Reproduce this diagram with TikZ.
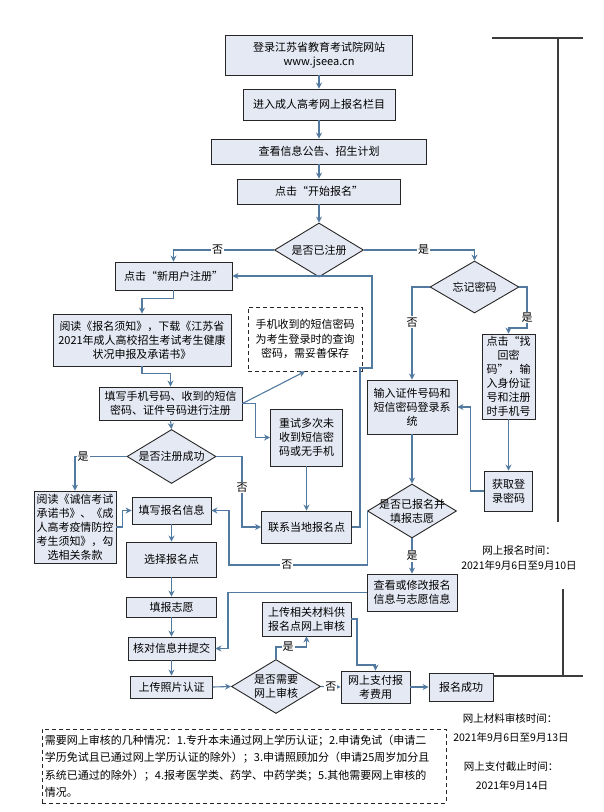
\documentclass[tikz,border=0pt]{standalone}
\usepackage{fontspec}
\setmainfont{Noto Sans CJK SC}
\usetikzlibrary{shapes.geometric}
\usetikzlibrary{arrows.meta}
\definecolor{boxfill}{RGB}{229,233,244}
\definecolor{flowblue}{RGB}{82,122,160}
\definecolor{rulegray}{RGB}{60,60,60}
\tikzstyle{stepbox}=[draw=black!85,fill=boxfill,line width=0.9pt,align=center,inner sep=0pt,font=\fontsize{11}{14}\selectfont]
\tikzstyle{notebox}=[draw=black!85,dash pattern=on 4pt off 3pt,fill=white,line width=0.9pt,align=center,inner sep=0pt,font=\fontsize{11}{14.5}\selectfont]
\tikzstyle{decision}=[diamond,draw=black!85,fill=boxfill,line width=0.9pt,inner sep=0pt,minimum width=89pt,minimum height=54pt]
\tikzstyle{dtext}=[align=center,inner sep=0pt,font=\fontsize{11}{14}\selectfont]
\tikzstyle{flow}=[-{Stealth[length=6pt,width=6pt]},draw=flowblue,line width=1.1pt]
\tikzstyle{yesno}=[fill=white,inner sep=1pt,text=black,font=\fontsize{11}{11}\selectfont]
\tikzstyle{timenote}=[inner sep=0pt,font=\fontsize{10.5}{12}\selectfont]
\tikzstyle{bracket}=[draw=rulegray,line width=1.5pt]

\begin{document}
\begin{tikzpicture}[x=1pt,y=-1pt]
  \useasboundingbox (0,0) rectangle (604,812);
  % main column
  \node[stepbox,minimum width=187pt,minimum height=40pt] (login) at (319,55) {登录江苏省教育考试院网站\\www.jseea.cn};
  \node[stepbox,minimum width=152pt,minimum height=31pt] (enter) at (319,104.5) {进入成人高考网上报名栏目};
  \node[stepbox,minimum width=215pt,minimum height=25pt] (notice) at (319,151.5) {查看信息公告、招生计划};
  \node[stepbox,minimum width=163pt,minimum height=25pt] (start) at (319,191.5) {点击“开始报名”};
  \node[decision,label={[dtext]center:是否已注册}] (regq) at (319,250) {};

  % new user
  \node[stepbox,minimum width=117pt,minimum height=28pt] (newuser) at (173.5,276) {点击“新用户注册”};
  \node[stepbox,minimum width=178pt,minimum height=52pt] (readnote) at (142,340) {阅读《报名须知》，下载《江苏省\\2021年成人高校招生考试考生健康\\状况申报及承诺书》};
  \node[stepbox,minimum width=143pt,minimum height=33pt] (fillphone) at (170.5,403.5) {填写手机号码、收到的短信\\密码、证件号码进行注册};
  \node[notebox,minimum width=114pt,minimum height=64pt] (smsnote) at (305,339) {手机收到的短信密码\\为考生登录时的查询\\密码，需妥善保存};
  \node[stepbox,minimum width=72pt,minimum height=57pt] (retry) at (306.5,437.5) {重试多次未\\收到短信密\\码或无手机};
  \node[stepbox,minimum width=90pt,minimum height=32pt] (contact) at (306.5,527) {联系当地报名点};
  \node[decision,label={[dtext]center:是否注册成功}] (regok) at (171.5,456.5) {};
  \node[stepbox,minimum width=82pt,minimum height=72pt] (honest) at (75,527) {阅读《诚信考试\\承诺书》、《成\\人高考疫情防控\\考生须知》，勾\\选相关条款};
  \node[stepbox,minimum width=79pt,minimum height=27pt] (fillinfo) at (171.5,510.5) {填写报名信息};
  \node[stepbox,minimum width=90pt,minimum height=35pt] (choose) at (171.5,559.5) {选择报名点};
  \node[stepbox,minimum width=90pt,minimum height=20pt] (wish) at (171.5,607) {填报志愿};
  \node[stepbox,minimum width=87pt,minimum height=23pt] (submit) at (171.5,648.5) {核对信息并提交};
  \node[stepbox,minimum width=82pt,minimum height=22pt] (photo) at (171.5,687) {上传照片认证};
  \node[decision,label={[dtext]center:{是否需要\\网上审核}}] (auditq) at (276,686.5) {};
  \node[stepbox,minimum width=89pt,minimum height=34pt] (upload) at (306.5,619) {上传相关材料供\\报名点网上审核};
  \node[stepbox,minimum width=69pt,minimum height=32pt] (pay) at (375.5,687) {网上支付报\\考费用};
  \node[stepbox,minimum width=64pt,minimum height=28pt] (done) at (461,687) {报名成功};

  % registered user
  \node[decision,minimum height=52pt,label={[dtext]center:忘记密码}] (forgot) at (474.5,287) {};
  \node[stepbox,minimum width=90pt,minimum height=54pt] (login2) at (412,407) {输入证件号码和\\短信密码登录系\\统};
  \node[stepbox,minimum width=53pt,minimum height=85pt] (findpwd) at (508.5,376.5) {点击“找\\回密\\码”，输\\入身份证\\号和注册\\时手机号};
  \node[stepbox,minimum width=48pt,minimum height=40pt] (getpwd) at (508.5,491) {获取登\\录密码};
  \node[decision,label={[dtext]center:{是否已报名并\\填报志愿}}] (appliedq) at (412,511) {};
  \node[stepbox,minimum width=90pt,minimum height=37pt] (modify) at (412,592.5) {查看或修改报名\\信息与志愿信息};

  \node[notebox,text width=398pt,inner sep=3pt,minimum height=74pt,align=left,font=\fontsize{11}{17.5}\selectfont] (auditnote) at (244,766) {需要网上审核的几种情况：1.专升本未通过网上学历认证；2.申请免试（申请二\\学历免试且已通过网上学历认证的除外）；3.申请照顾加分（申请25周岁加分且\\系统已通过的除外）；4.报考医学类、药学、中药学类；5.其他需要网上审核的\\情况。};

  % time notes
  \node[timenote] (regtime) at (519,550) {网上报名时间：};
  \node[timenote] (regdate) at (519,565) {2021年9月6日至9月10日};
  \node[timenote] (audittime) at (510,718) {网上材料审核时间：};
  \node[timenote] (auditdate) at (511,737) {2021年9月6日至9月13日};
  \node[timenote] (paytime) at (511,767) {网上支付截止时间：};
  \node[timenote] (paydate) at (512,785) {2021年9月14日};

  \coordinate (r1) at (492,38);
  \coordinate (r2) at (583,38);
  \coordinate (r3) at (558,38);
  \coordinate (r4) at (558,522);
  \coordinate (r5) at (563,589);
  \coordinate (r6) at (563,676);
  \coordinate (r7) at (493,676);
  \coordinate (r8) at (583,676);
  \draw[bracket] (r1) -- (r2);
  \draw[bracket] (r3) -- (r4);
  \draw[bracket] (r5) -- (r6);
  \draw[bracket] (r7) -- (r8);

  % straight arrows
  \foreach \a/\b in {login/enter,enter/notice,notice/start,start/regq,fillphone/regok,retry/contact,fillinfo/choose,choose/wish,wish/submit,submit/photo,findpwd/getpwd,login2/appliedq}
    \draw[flow] (\a.south) -- (\b.north);
  \draw[flow] (photo.east) -- (auditq.west);
  \draw[flow] (pay.east) -- (done.west);

  \coordinate (j1) at (360,368);
  \coordinate (j2) at (372,368);
  \coordinate (c1) at (242,527);
  \coordinate (c2) at (276,647);
  \coordinate (c3) at (357,665);
  \coordinate (c4) at (527,328);
  \coordinate (c5) at (229,565);
  \coordinate (c6) at (228,648.5);

  \draw[flow] (regq.west) -| node[yesno,pos=0.28] {否} (newuser.north);
  \draw[flow] (regq.east) -| node[yesno,pos=0.27] {是} (forgot.north);
  \draw[flow] (newuser.south) -- ++(0,8) -| (readnote.north);
  \draw[flow] (readnote.south) -- ++(0,7) -| (fillphone.north);
  \draw[flow] (fillphone.east) -- (smsnote.south);
  \draw[flow] (fillphone.east) -- ++(13,0) |- (retry.west);
  \draw[flow] (contact.east) -| (j1) -- (j2) |- (newuser.east);
  \draw[flow] (regok.west) -| node[yesno,pos=0.42] {是} (honest.north);
  \draw[flow] (regok.east) -| node[yesno,pos=0.72] {否} (c1) -- (contact.west);
  \draw[flow] (honest.east) -- ++(6,0) |- (fillinfo.west);
  \draw[flow] (auditq.east) -- node[yesno] {否} (pay.west);
  \draw[flow] (auditq.north) -- (c2) -| node[yesno,pos=0.2] {是} (upload.south);
  \draw[flow] (upload.east) -| (c3) -| (pay.north);
  \draw[flow] (forgot.west) -| node[yesno,pos=0.69] {否} (login2.north);
  \draw[flow] (forgot.east) -| node[yesno,pos=0.87] {是} (c4) -| (findpwd.north);
  \draw[flow] (getpwd.west) -- ++(-14,0) |- (login2.east);
  \draw[flow] (appliedq.south) -- node[yesno] {是} (modify.north);
  \draw[flow] (appliedq.west) |- node[yesno,pos=0.79] {否} (c5) |- (fillinfo.east);
  \draw[flow] (modify.west) -| (c6) -- (submit.east);
\end{tikzpicture}
\end{document}
